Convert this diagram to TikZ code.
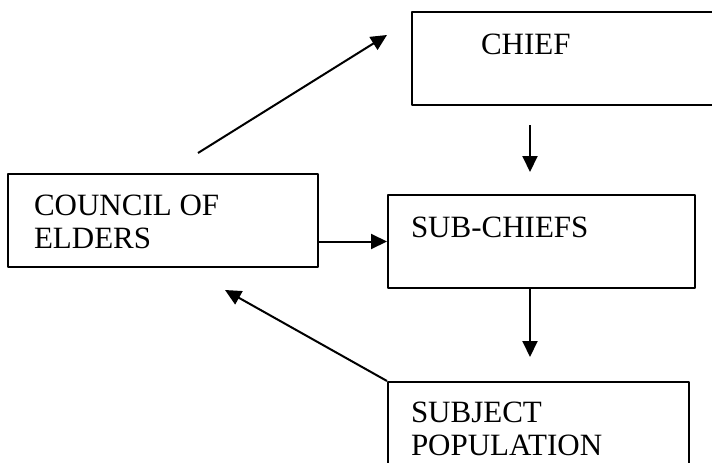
\documentclass[tikz,border=0pt]{standalone}
\usepackage{fontspec}
\setmainfont{Liberation Serif}
\usetikzlibrary{arrows.meta,positioning}
\begin{document}
\begin{tikzpicture}[x=1pt,y=-1pt,line join=round,>={Triangle[length=16pt,width=15pt]},line width=2pt]
	\tikzset{box/.style={draw,minimum width=#1,minimum height=93pt,inner sep=0pt},
		lbl/.style={anchor=north west,inner sep=0pt,align=left,font=\fontsize{31}{33}\selectfont}}
	\clip (0,0) rectangle (712,463);
	% boxes
	\node[box=310pt] (council) at (163,220.5) {};
	\node[box=313pt] (chief) at (568.5,58.5) {};
	\node[box=307pt] (sub) at (541.5,241.5) {};
	\node[box=301pt] (subject) at (538.5,428.5) {};
	% labels
	\node[lbl] (councilT) at (33,194) {COUNCIL OF\\ELDERS};
	\node[lbl] (chiefT) at (480,33) {CHIEF};
	\node[lbl] (subT) at (410,216) {SUB-CHIEFS};
	\node[lbl] (subjectT) at (410,401) {SUBJECT\\POPULATION};
	% free ends
	\coordinate (up0) at (198,153);
	\coordinate (up1) at (387,35);
	\coordinate (c0) at (530,125);
	\coordinate (c1) at (530,172);
	\coordinate (s1) at (530,357);
	\coordinate (back) at (225,290);
	% arrows
	\draw[->] (up0)--(up1);
	\draw[->] (c0)--(c1);
	\draw[->] (council.east |- sub.west)--(sub.west);
	\draw[->] (sub.south -| s1)--(s1);
	\draw[->] (subject.north west)--(back);
\end{tikzpicture}
\end{document}
